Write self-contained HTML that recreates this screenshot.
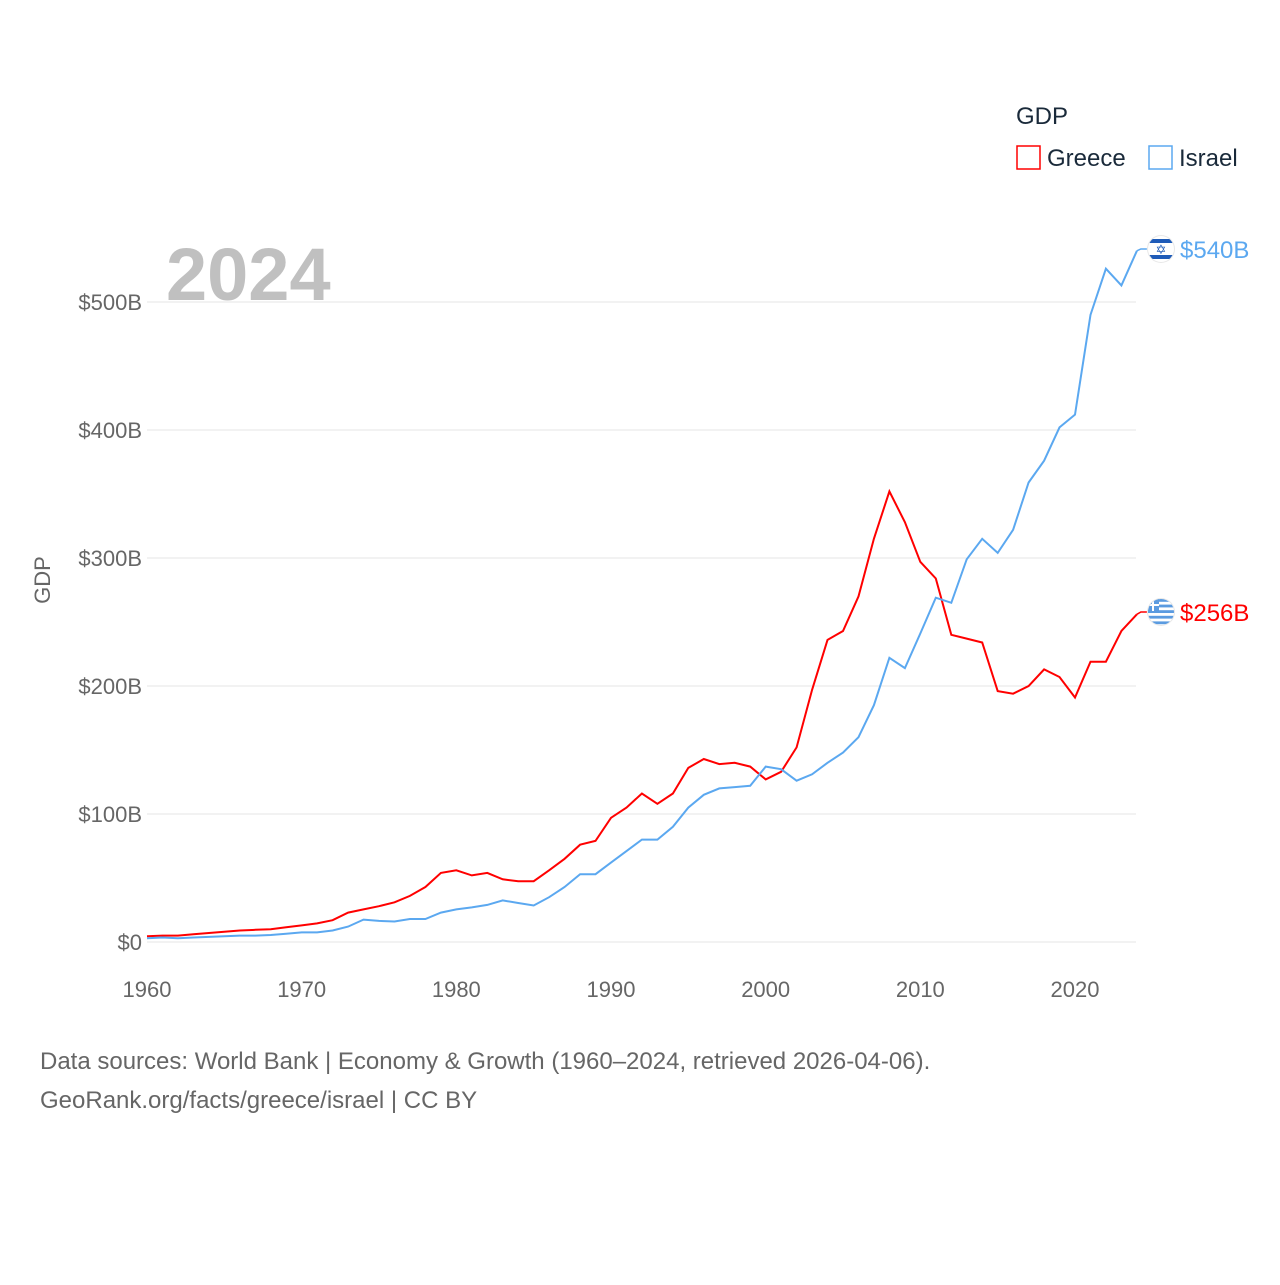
<!DOCTYPE html>
<html><head><meta charset="utf-8"><style>
body{margin:0;width:1280px;height:1280px;background:#fff;font-family:"Liberation Sans",sans-serif;}
svg text{font-family:"Liberation Sans",sans-serif;}
</style></head><body>
<svg id="chart" width="1280" height="1280">
<defs>
<clipPath id="clipIsrael"><circle cx="1161" cy="249" r="13"/></clipPath>
<clipPath id="clipGreece"><circle cx="1161" cy="612" r="13"/></clipPath>
</defs>
<text x="1016" y="124" font-size="24" fill="#1a2a3a">GDP</text>
<g><rect x="1017" y="146" width="23" height="23" fill="none" stroke="#ff0000" stroke-width="1.5"/><text x="1047" y="166" font-size="24" fill="#1a2a3a">Greece</text></g>
<g><rect x="1149" y="146" width="23" height="23" fill="none" stroke="#5ba8f0" stroke-width="1.5"/><text x="1179" y="166" font-size="24" fill="#1a2a3a">Israel</text></g>
<text x="166" y="300" font-size="74" font-weight="bold" fill="#c0c0c0">2024</text>
<text transform="translate(50,580) rotate(-90)" text-anchor="middle" font-size="22" fill="#666">GDP</text>
<g id="grid"></g><g id="series"></g><g id="ends"></g>
<text x="40" y="1069" font-size="24" fill="#666">Data sources: World Bank | Economy &amp; Growth (1960–2024, retrieved 2026-04-06).</text>
<text x="40" y="1108" font-size="24" fill="#666">GeoRank.org/facts/greece/israel | CC BY</text>
</svg>
<script>
const years=[];for(let y=1960;y<=2024;y++)years.push(y);
const greece=[4.5,5,5,6,7,8,9,9.5,10,11.5,13,14.5,17,23,25.5,28,31,36,43,54,56,52,54,49,47.5,47.5,56,65,76,79,97,105,116,108,116,136,143,139,140,137,127,133,152,197,236,243,270,315,352,328,297,284,240,237,234,196,194,200,213,207,191,219,219,243,256];
const israel=[3,3.5,3,3.5,4,4.5,5,5,5.5,6.5,7.5,7.5,9,12,17.5,16.5,16,18,18,23,25.5,27,29,32.5,30.5,28.5,35,43,53,53,62,71,80,80,90,105,115,120,121,122,137,135,126,131,140,148,160,185,222,214,241,269,265,299,315,304,322,359,376,402,412,490,526,513,540];
const yTicks=[0,100,200,300,400,500];
const yTickLabels=["$0","$100B","$200B","$300B","$400B","$500B"];
const xTicks=[1960,1970,1980,1990,2000,2010,2020];
const X=y=>147+(y-1960)*(928/60);
const Y=v=>942-v*1.28;
const NS="http://www.w3.org/2000/svg";
function mk(t,a,p){const e=document.createElementNS(NS,t);for(const k in a)e.setAttribute(k,a[k]);p.appendChild(e);return e;}
const grid=document.getElementById('grid');
yTicks.forEach((v,i)=>{
 const l=mk('line',{x1:147,x2:1136,y1:Y(v),y2:Y(v),stroke:'#e6e6e6','stroke-width':1},grid);
 
 
 const t=mk('text',{x:142,y:Y(v)+8,'text-anchor':'end','font-size':22,fill:'#666'},grid);t.textContent=yTickLabels[i];
 
 
});
xTicks.forEach(v=>{
 const t=mk('text',{x:X(v),y:997,'text-anchor':'middle','font-size':22,fill:'#666'},grid);t.textContent=v;
 
 
});
const ser=document.getElementById('series');
[[greece,'#ff0000','greece-line'],[israel,'#5ba8f0','israel-line']].forEach(([d,c,n])=>{
 const p=mk('path',{d:d.map((v,i)=>(i?'L':'M')+X(years[i]).toFixed(1)+','+Y(v).toFixed(1)).join(''),fill:'none',stroke:c,'stroke-width':2},ser);
 
 
});
const ends=document.getElementById('ends');
function endLabel(d,c,label,ty,n,clip,flag){
 const v=d[d.length-1],x0=X(2024),y0=Y(v);
 const g=mk('g',{},ends);
 
 
 mk('path',{d:`M${x0},${y0}L${x0+4},${ty}L${x0+10},${ty}`,fill:'none',stroke:c,'stroke-width':1.5},g);
 const cx=1161;
 mk('circle',{cx:cx,cy:ty,r:14,fill:'#e8e8e8'},g);
 const fg=mk('g',{'clip-path':`url(#${clip})`},g);
 mk('rect',{x:cx-14,y:ty-14,width:28,height:28,fill:'#fff'},fg);
 flag(fg,cx,ty);
 const t=mk('text',{x:1180,y:ty+9,'font-size':24,fill:c},g);t.textContent=label;
}
endLabel(israel,'#5ba8f0','$540B',249,'israel-end-label','clipIsrael',(g,cx,cy)=>{
 mk('rect',{x:cx-14,y:cy-10,width:28,height:4,fill:'#1e5bb8'},g);
 mk('rect',{x:cx-14,y:cy+6,width:28,height:4,fill:'#1e5bb8'},g);
 mk('text',{x:cx,y:cy+5,'text-anchor':'middle','font-size':13,fill:'#1e5bb8'},g).textContent='✡';
});
endLabel(greece,'#ff0000','$256B',612,'greece-end-label','clipGreece',(g,cx,cy)=>{
 for(let i=0;i<5;i++)mk('rect',{x:cx-14,y:cy-13+i*5.6,width:28,height:2.8,fill:'#5b9be0'},g);
 mk('rect',{x:cx-14,y:cy-13,width:12,height:12,fill:'#5b9be0'},g);
 mk('rect',{x:cx-14,y:cy-8,width:12,height:2,fill:'#fff'},g);
 mk('rect',{x:cx-9,y:cy-13,width:2,height:12,fill:'#fff'},g);
});
</script>
</body></html>
